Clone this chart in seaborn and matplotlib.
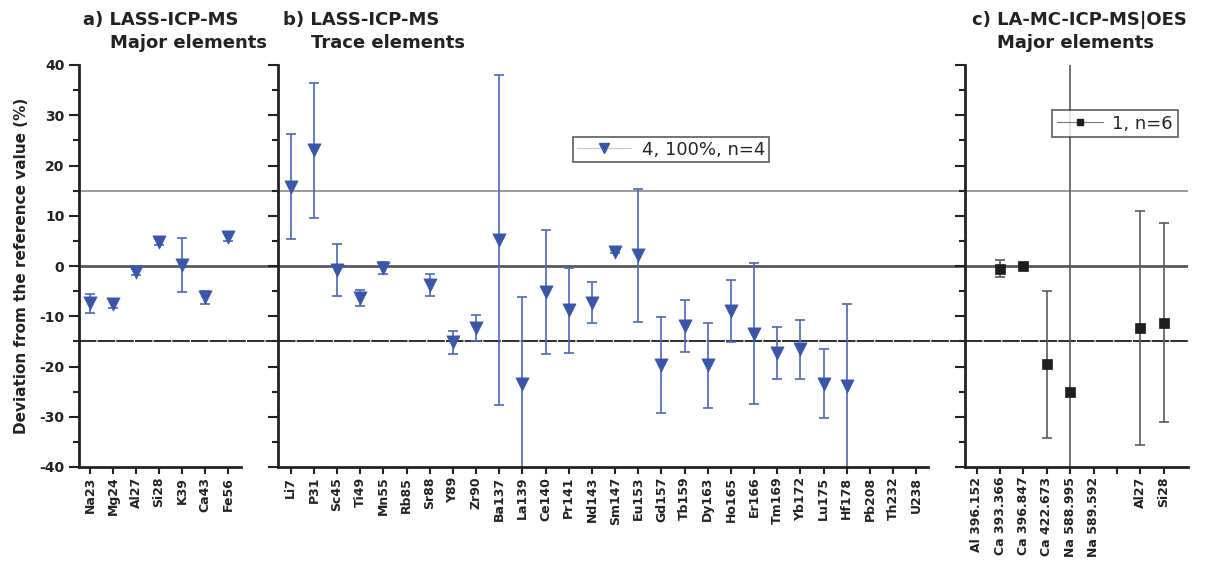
import numpy as np
import matplotlib
matplotlib.use("Agg")
import matplotlib.pyplot as plt
import seaborn as sns
from matplotlib.lines import Line2D
from matplotlib.ticker import MultipleLocator

nan = np.nan

# a) LASS-ICP-MS, major elements
major_labels = ['Na23', 'Mg24', 'Al27', 'Si28', 'K39', 'Ca43', 'Fe56']
major_dev = [-7.4, -7.5, -1.2, 4.7, 0.2, -6.2, 5.8]
major_err = [1.9, 0.9, 0.6, 0.6, 5.4, 1.3, 0.8]

# b) LASS-ICP-MS, trace elements
trace_labels = ['Li7', 'P31', 'Sc45', 'Ti49', 'Mn55', 'Rb85', 'Sr88', 'Y89', 'Zr90',
                'Ba137', 'La139', 'Ce140', 'Pr141', 'Nd143', 'Sm147', 'Eu153', 'Gd157',
                'Tb159', 'Dy163', 'Ho165', 'Er166', 'Tm169', 'Yb172', 'Lu175', 'Hf178',
                'Pb208', 'Th232', 'U238']
trace_dev = [15.8, 23.0, -0.8, -6.3, -0.4, nan, -3.8, -15.2, -12.3,
             5.2, -23.5, -5.2, -8.8, -7.3, 2.8, 2.1, -19.7,
             -12.0, -19.8, -8.9, -13.5, -17.3, -16.6, -23.4, -23.9,
             nan, nan, nan]
trace_err = [10.4, 13.5, 5.2, 1.6, 1.2, nan, 2.2, 2.3, 2.6,
             32.8, 17.3, 12.4, 8.5, 4.1, 0.3, 13.3, 9.6,
             5.2, 8.4, 6.2, 14.0, 5.2, 5.9, 6.8, 16.4,
             nan, nan, nan]

# c) LA-MC-ICP-MS|OES, major elements
oes_labels = ['Al 396.152', 'Ca 393.366', 'Ca 396.847', 'Ca 422.673', 'Na 588.995',
              'Na 589.592', '', 'Al27', 'Si28']
oes_dev = [nan, -0.5, 0.0, -19.6, -25.0, nan, nan, -12.4, -11.3]
oes_err = [nan, 1.7, 0.3, 14.6, 70.0, nan, nan, 23.3, 19.8]

blue = '#3a56a8'
blue_bar = '#4a68b6'
dark = '#1e1e1e'
gray_bar = '#5a5a5a'

sns.set_theme(style='ticks')
plt.rcParams['font.family'] = ['DejaVu Sans']
plt.rcParams['axes.unicode_minus'] = False

W, H = 1211, 566
fig = plt.figure(figsize=(W / 100, H / 100), dpi=100)


def fx(px):
    return px / W


def fy(py):
    return 1 - py / H


bottom, top = fy(467), fy(65)
ax_a = fig.add_axes([fx(79), bottom, fx(278) - fx(79), top - bottom])
ax_b = fig.add_axes([fx(278), bottom, fx(965) - fx(278), top - bottom])
ax_c = fig.add_axes([fx(965), bottom, fx(1188) - fx(965), top - bottom])

panels = [
    (ax_a, major_labels, major_dev, major_err, 'v', blue, blue_bar, (-0.48, 8.17), 6.57),
    (ax_b, trace_labels, trace_dev, trace_err, 'v', blue, blue_bar, (-0.55, 29.1), 27.5),
    (ax_c, oes_labels, oes_dev, oes_err, 's', dark, gray_bar, (-0.5, 9.03), None),
]

for ax, labels, dev, err, mk, col, bcol, xl, xend in panels:
    pos = np.arange(len(labels))
    ax.set_facecolor('none')
    ax.axhline(15, color='#8a8a8a', lw=1.2, zorder=1)
    ax.axhline(0, color='#5a5a5a', lw=2.0, zorder=1)
    ax.axhline(-15, color='#2e2e2e', lw=1.4, dashes=(9, 0.6), zorder=1)
    ax.errorbar(pos, dev, yerr=err, fmt='none', ecolor=bcol, elinewidth=1.2,
                capsize=3.6, capthick=1.2, zorder=2)
    size = 90 if mk == 'v' else 62
    sns.scatterplot(x=pos, y=dev, ax=ax, marker=mk, s=size, color=col,
                    edgecolor=col, linewidth=0.5, legend=False, zorder=3)
    ax.set_xlim(*xl)
    ax.set_ylim(-40, 40)
    ax.set_xticks(pos)
    ax.set_xticklabels(labels, rotation=90, fontsize=9, fontweight='bold', color='#222222')
    ax.yaxis.set_major_locator(MultipleLocator(10))
    ax.yaxis.set_minor_locator(MultipleLocator(5))
    ax.tick_params(axis='y', which='major', direction='out', length=7, width=1.5, color='#222222')
    ax.tick_params(axis='y', which='minor', direction='out', length=4.5, width=1.5, color='#222222')
    ax.tick_params(axis='x', direction='out', length=5, width=1.5, color='#222222', pad=2)
    for side in ['top', 'right']:
        ax.spines[side].set_visible(False)
    for side in ['left', 'bottom']:
        ax.spines[side].set_linewidth(2)
        ax.spines[side].set_color('#222222')
    if xend is not None:
        ax.spines['bottom'].set_bounds(xl[0], xend)
    ax.set_xlabel('')
    ax.set_ylabel('')
    ax.grid(False)

ax_a.set_yticks([40, 30, 20, 10, 0, -10, -20, -30, -40])
plt.setp(ax_a.get_yticklabels(), fontsize=10, fontweight='bold', color='#222222')
for ax in (ax_b, ax_c):
    ax.tick_params(axis='y', which='both', labelleft=False)

# titles
title_kw = dict(fontsize=13, fontweight='bold', color='#222222', ha='left', va='center')
fig.text(fx(83), fy(20), 'a) LASS-ICP-MS', **title_kw)
fig.text(fx(110), fy(43), 'Major elements', **title_kw)
fig.text(fx(283), fy(20), 'b) LASS-ICP-MS', **title_kw)
fig.text(fx(311), fy(43), 'Trace elements', **title_kw)
fig.text(fx(972), fy(20), 'c) LA-MC-ICP-MS|OES', **title_kw)
fig.text(fx(997), fy(43), 'Major elements', **title_kw)

fig.text(fx(22), fy(266), 'Deviation from the reference value (%)', rotation=90,
         fontsize=11, fontweight='bold', color='#222222', ha='center', va='center')

# legends
h_b = Line2D([0], [0], color='#c8c8c8', lw=0.8, marker='v', markersize=7,
             markerfacecolor=blue, markeredgecolor=blue)
leg_b = fig.legend([h_b], ['4, 100%, n=4'], loc='upper left',
                   bbox_to_anchor=(fx(573), fy(137)), bbox_transform=fig.transFigure,
                   fontsize=13, frameon=True, fancybox=False, edgecolor='#333333',
                   borderaxespad=0, borderpad=0.2, handlelength=3.0, handletextpad=0.6)
leg_b.get_frame().set_linewidth(1.2)

h_c = Line2D([0], [0], color='#777777', lw=0.8, marker='s', markersize=5,
             markerfacecolor=dark, markeredgecolor=dark)
leg_c = fig.legend([h_c], ['1, n=6'], loc='upper left',
                   bbox_to_anchor=(fx(1052), fy(110)), bbox_transform=fig.transFigure,
                   fontsize=13, frameon=True, fancybox=False, edgecolor='#333333',
                   borderaxespad=0, borderpad=0.25, handlelength=2.6, handletextpad=0.5)
leg_c.get_frame().set_linewidth(1.2)

fig.savefig('out.png', dpi=100)
